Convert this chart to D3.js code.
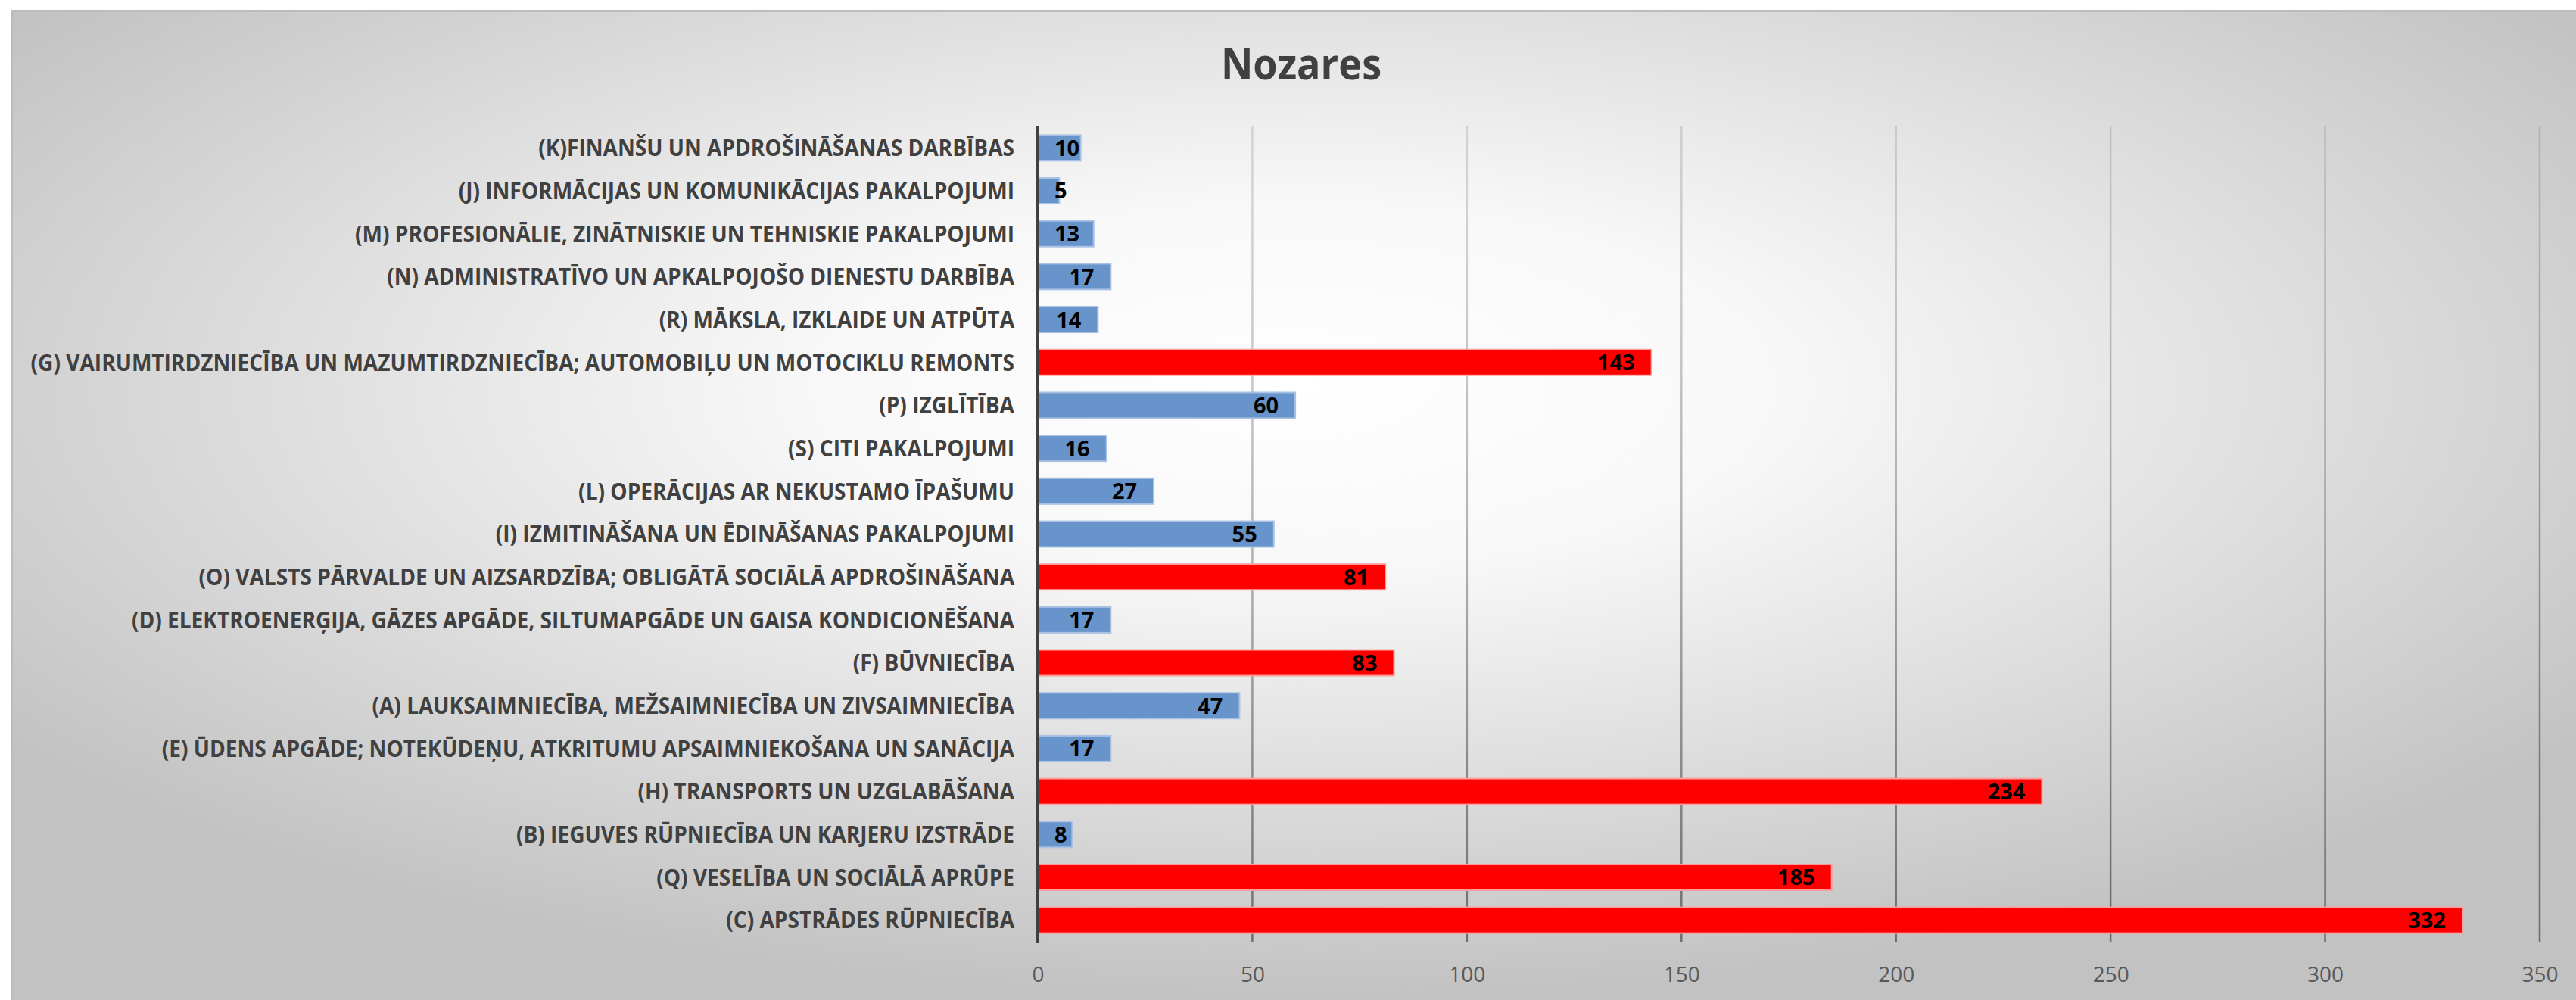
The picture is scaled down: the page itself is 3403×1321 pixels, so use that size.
<!DOCTYPE html>
<html>
<head>
<meta charset="utf-8">
<script src="https://cdn.jsdelivr.net/npm/d3@7"></script>
<style>
    html, body { margin: 0; padding: 0; background: #fff; }
    svg { display: block; }
</style>
</head>
<body>
<script>
(function() {

    const width = 3403;
    const height = 1321;

    // categories, top to bottom as in the picture
    const categories = [
        "(K)FINANŠU UN APDROŠINĀŠANAS DARBĪBAS",
        "(J) INFORMĀCIJAS UN KOMUNIKĀCIJAS PAKALPOJUMI",
        "(M) PROFESIONĀLIE, ZINĀTNISKIE UN TEHNISKIE PAKALPOJUMI",
        "(N) ADMINISTRATĪVO UN APKALPOJOŠO DIENESTU DARBĪBA",
        "(R) MĀKSLA, IZKLAIDE UN ATPŪTA",
        "(G) VAIRUMTIRDZNIECĪBA UN MAZUMTIRDZNIECĪBA; AUTOMOBIĻU UN MOTOCIKLU REMONTS",
        "(P) IZGLĪTĪBA",
        "(S) CITI PAKALPOJUMI",
        "(L) OPERĀCIJAS AR NEKUSTAMO ĪPAŠUMU",
        "(I) IZMITINĀŠANA UN ĒDINĀŠANAS PAKALPOJUMI",
        "(O) VALSTS PĀRVALDE UN AIZSARDZĪBA; OBLIGĀTĀ SOCIĀLĀ APDROŠINĀŠANA",
        "(D) ELEKTROENERĢIJA, GĀZES APGĀDE, SILTUMAPGĀDE UN GAISA KONDICIONĒŠANA",
        "(F) BŪVNIECĪBA",
        "(A) LAUKSAIMNIECĪBA, MEŽSAIMNIECĪBA UN ZIVSAIMNIECĪBA",
        "(E) ŪDENS APGĀDE; NOTEKŪDEŅU, ATKRITUMU APSAIMNIEKOŠANA UN SANĀCIJA",
        "(H) TRANSPORTS UN UZGLABĀŠANA",
        "(B) IEGUVES RŪPNIECĪBA UN KARJERU IZSTRĀDE",
        "(Q) VESELĪBA UN SOCIĀLĀ APRŪPE",
        "(C) APSTRĀDES RŪPNIECĪBA"
    ];
    const values = [10, 5, 13, 17, 14, 143, 60, 16, 27, 55, 81, 17, 83, 47, 17, 234, 8, 185, 332];
    // bars above this value are drawn red
    const highlightLimit = 80;
    const xTicks = [0, 50, 100, 150, 200, 250, 300, 350];
    const title = "Nozares";

    const margin = { left: 1371, right: 48, top: 167, bottom: 77 };

    let svg = d3.select("body")
        .append("svg")
        .attr("width", width)
        .attr("height", height);

    let defs = svg.append("defs");

    // background gradient, light in the middle and grey at the edges
    let bg = defs.append("radialGradient")
        .attr("id", "bg")
        .attr("cx", "50%").attr("cy", "38%")
        .attr("r", "62%");
    bg.append("stop").attr("offset", "0").attr("stop-color", "#ffffff");
    bg.append("stop").attr("offset", "0.3").attr("stop-color", "#f8f8f8");
    bg.append("stop").attr("offset", "1").attr("stop-color", "#c2c2c2");

    // gridlines get darker towards the bottom
    let gg = defs.append("linearGradient")
        .attr("id", "grid")
        .attr("gradientUnits", "userSpaceOnUse")
        .attr("x1", 0).attr("y1", margin.top)
        .attr("x2", 0).attr("y2", height - margin.bottom);
    gg.append("stop").attr("offset", "0").attr("stop-color", "#000").attr("stop-opacity", 0.12);
    gg.append("stop").attr("offset", "1").attr("stop-color", "#000").attr("stop-opacity", 0.45);

    svg.append("rect")
        .attr("x", 14).attr("y", 13)
        .attr("width", width - 14).attr("height", height - 13)
        .attr("fill", "url(#bg)");
    svg.append("line")
        .attr("x1", 14).attr("x2", width)
        .attr("y1", 14.5).attr("y2", 14.5)
        .attr("stroke", "#bcbcbc").attr("stroke-width", 3);
    svg.append("line")
        .attr("x1", 15.5).attr("x2", 15.5)
        .attr("y1", 13).attr("y2", height)
        .attr("stroke", "#bcbcbc").attr("stroke-width", 3);

    let x = d3.scaleLinear()
        .domain([0, 350])
        .range([margin.left, width - margin.right]);

    let y = d3.scaleBand()
        .domain(categories)
        .range([margin.top, height - margin.bottom])
        .paddingInner(0.4)
        .paddingOuter(0.2);

    // vertical gridlines
    svg.append("g")
        .selectAll("line")
        .data(xTicks.filter(d => d > 0))
        .enter()
        .append("line")
        .attr("x1", d => x(d)).attr("x2", d => x(d))
        .attr("y1", margin.top).attr("y2", height - margin.bottom)
        .attr("stroke", "url(#grid)")
        .attr("stroke-width", 2.5);

    // x axis labels
    let xAxis = d3.axisBottom(x)
        .tickValues(xTicks)
        .tickSize(0)
        .tickPadding(0)
        .tickFormat(d3.format("d"));

    let gx = svg.append("g")
        .attr("transform", "translate(0," + (height - margin.bottom) + ")")
        .call(xAxis);
    gx.select(".domain").remove();
    gx.selectAll("text")
        .attr("y", 53)
        .attr("dy", 0)
        .style("font-family", "'Open Sans', sans-serif")
        .style("font-size", "28px")
        .style("fill", "#595959");

    // bars
    svg.append("g")
        .selectAll("rect")
        .data(values)
        .enter()
        .append("rect")
        .attr("x", x(0))
        .attr("y", (d, i) => y(categories[i]))
        .attr("width", d => x(d) - x(0))
        .attr("height", y.bandwidth())
        .attr("fill", d => d > highlightLimit ? "#ff0000" : "#6794cb")
        .attr("stroke", d => d > highlightLimit ? "#ff9c9c" : "#a9c2e4")
        .attr("stroke-width", 2);

    // y axis line
    svg.append("line")
        .attr("x1", x(0)).attr("x2", x(0))
        .attr("y1", margin.top).attr("y2", height - margin.bottom + 2)
        .attr("stroke", "#404040")
        .attr("stroke-width", 4);

    // category labels
    let labels = svg.append("g")
        .selectAll("text")
        .data(categories)
        .enter()
        .append("text")
        .attr("text-anchor", "end")
        .attr("dy", "0.36em")
        .style("font-family", "'Open Sans', sans-serif")
        .style("font-weight", "bold")
        .style("font-size", "30px")
        .style("fill", "#404040")
        .text(d => d);

    // squeeze labels so the longest one fits like in the picture
    let longest = d3.max(labels.nodes(), n => n.getComputedTextLength());
    let k = 1300 / longest;
    labels.attr("transform", d => "translate(1340," + (y(d) + y.bandwidth() / 2) + ") scale(" + k + ",1)");

    // value labels, inside the bar end
    svg.append("g")
        .selectAll("text")
        .data(values)
        .enter()
        .append("text")
        .attr("y", (d, i) => y(categories[i]) + y.bandwidth() / 2)
        .attr("dy", "0.36em")
        .style("font-family", "'Open Sans', sans-serif")
        .style("font-weight", "bold")
        .style("font-size", "29px")
        .style("fill", "#000")
        .text(d => d)
        .attr("x", function(d) {
            let w = this.getComputedTextLength();
            return Math.max(x(0) + 22, x(d) - 22 - w);
        });

    // title
    svg.append("text")
        .attr("transform", "translate(1719,105) scale(0.9,1)")
        .attr("text-anchor", "middle")
        .style("font-family", "'Open Sans', sans-serif")
        .style("font-weight", "bold")
        .style("font-size", "58px")
        .style("fill", "#404040")
        .text(title);

})();
</script>
</body>
</html>
